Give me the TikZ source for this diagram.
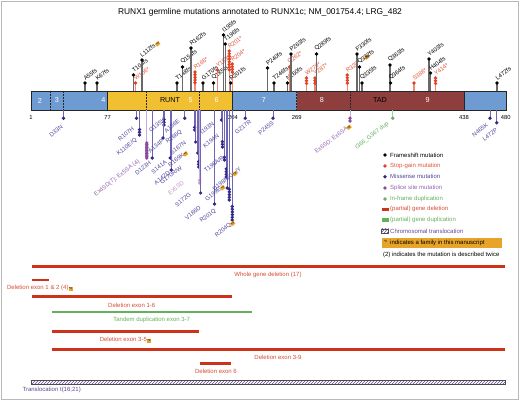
\documentclass[tikz,border=0pt]{standalone}
\usepackage{fontspec}
\setmainfont{Liberation Sans}
\usetikzlibrary{patterns}
\definecolor{exblue}{RGB}{110,156,210}
\definecolor{runty}{RGB}{240,192,50}
\definecolor{tadred}{RGB}{142,62,60}
\definecolor{sgred}{RGB}{226,66,36}
\definecolor{sglab}{RGB}{228,84,56}
\definecolor{msblue}{RGB}{50,40,135}
\definecolor{mslab}{RGB}{80,68,160}
\definecolor{msstem}{RGB}{112,102,182}
\definecolor{sppur}{RGB}{140,76,158}
\definecolor{splab}{RGB}{150,100,175}
\definecolor{splight}{RGB}{196,150,205}
\definecolor{spstem}{RGB}{200,172,218}
\definecolor{dupgreen}{RGB}{100,176,92}
\definecolor{delred}{RGB}{206,50,24}
\definecolor{dellab}{RGB}{214,78,52}
\definecolor{badgeor}{RGB}{232,164,40}
\definecolor{fsstem}{RGB}{105,105,105}
\definecolor{sgstem}{RGB}{240,138,115}
\definecolor{trpur}{RGB}{100,72,140}
\newcounter{mc}
\newcounter{lc}
\newcommand{\badge}{{\setlength{\fboxsep}{0.7pt}\colorbox{badgeor}{\fontsize{3.1}{3.1}\selectfont\color{black}*\#}}}
\tikzset{
  toplab/.style={font=\fontsize{5.9}{6.5}\selectfont, inner sep=0.2pt, anchor=south west, rotate=38},
  botlab/.style={font=\fontsize{5.9}{6.5}\selectfont, inner sep=0.2pt, anchor=center, rotate=38},
  barlab/.style={font=\fontsize{7.2}{8}\selectfont, inner sep=0},
  ticklab/.style={font=\fontsize{5.8}{6}\selectfont, inner sep=0},
  legtext/.style={font=\fontsize{6}{7}\selectfont, anchor=west, inner sep=0},
  dellabel/.style={font=\fontsize{6}{7}\selectfont, text=dellab, inner sep=0},
  delbar/.style={draw=delred, line width=2.9pt},
  dupbar/.style={draw=dupgreen, line width=2.9pt},
  domline/.style={draw=black!85, line width=0.6pt},
  domdash/.style={draw=black!85, line width=0.6pt, dash pattern=on 1.8pt off 1.2pt},
}
\newcommand{\topmut}[7]{%
  \stepcounter{mc}%
  \coordinate (tb\themc) at (#1,91);
  \coordinate (td\themc) at (#1,#2);
  \draw[#5, line width=1.2pt] (tb\themc) -- (td\themc);
  \foreach \i in {1,...,#3} {\fill[#4] (#1,{#2+(\i-1)*2.7}) circle (1.85);}
  \node[toplab, text=#6] (tl\themc) at ({#1+0.6},{#2-1.6}) {#7};
}
\newcommand{\mutfs}[4]{\topmut{#1}{#2}{#3}{black}{fsstem}{black}{#4}}
\newcommand{\mutsg}[4]{\topmut{#1}{#2}{#3}{sgred}{sgstem}{sglab}{#4}}
\newcommand{\botmut}[6]{%
  \stepcounter{mc}%
  \coordinate (bb\themc) at (#1,110);
  \coordinate (bd\themc) at (#1,#2);
  \draw[#5, line width=1pt] (bb\themc) -- (bd\themc);
  \foreach \i in {1,...,#3} {\fill[#4] (#1,{#2-(\i-1)*#6}) circle (1.85);}
}
\newcommand{\mutms}[3]{\botmut{#1}{#2}{#3}{msblue}{msstem}{2.7}}
\newcommand{\blab}[4]{\stepcounter{lc}\node[botlab,text=#3] (bl\thelc) at (#1,#2) {#4};}
\begin{document}
\begin{tikzpicture}[x=1pt,y=-1pt]
\useasboundingbox (0,0) rectangle (520,401);
\fill[white] (0,0) rectangle (520,401);
\draw[gray!55, line width=0.8pt] (1,1) rectangle (518.6,399.2);
% title
\node[font=\fontsize{8.4}{9}\selectfont, inner sep=0] (title) at (260,12) {RUNX1 germline mutations annotated to RUNX1c; NM\_001754.4; LRG\_482};
% protein bar
\fill[exblue] (31,91) rectangle (107.6,110);
\fill[runty] (107.6,91) rectangle (232.3,110);
\fill[exblue] (232.3,91) rectangle (296.5,110);
\fill[tadred] (296.5,91) rectangle (464,110);
\fill[exblue] (464,91) rectangle (506,110);
\draw[domline] (31,91) rectangle (506,110);
\draw[domline] (107.6,91) -- (107.6,110);
\draw[domline] (232.3,91) -- (232.3,110);
\draw[domline] (464,91) -- (464,110);
\foreach \xx in {50.7,63.3,146.7,199,296.5,350} {\draw[domdash] (\xx,91) -- (\xx,110);}
\node[barlab, text=white] (e2) at (40,100.5) {2};
\node[barlab, text=white] (e3) at (57,100.5) {3};
\node[barlab, text=white] (e4) at (103.5,100.5) {4};
\node[barlab, text=black] (runt) at (170,100.5) {RUNT};
\node[barlab, text=white] (e5) at (190.7,100.5) {5};
\node[barlab, text=white] (e6) at (216.7,100.5) {6};
\node[barlab, text=white] (e7) at (264,100.5) {7};
\node[barlab, text=white] (e8) at (322,100.5) {8};
\node[barlab, text=black] (tad) at (380,100.5) {TAD};
\node[barlab, text=white] (e9) at (427.7,100.5) {9};
% ticks
\node[ticklab] (k1) at (31,117.5) {1};
\node[ticklab] (k77) at (107.6,117.5) {77};
\node[ticklab] (k204) at (233,117.5) {204};
\node[ticklab] (k269) at (296.7,117.5) {269};
\node[ticklab] (k438) at (464,117.5) {438};
\node[ticklab] (k480) at (505.7,117.5) {480};
% top mutations
\mutfs{85}{83}{1}{A55fs}
\mutfs{97}{83}{1}{K67fs}
\mutfs{133.5}{75}{1}{T104fs}
\mutsg{135.5}{83}{1}{W106*}
\mutfs{142}{60}{1}{L112fs\,\badge}
\mutfs{177}{83}{1}{T148fs}
\mutfs{182.5}{67}{1}{Q154fs}
\mutfs{191}{48}{1}{R162fs}
\mutsg{195}{72}{5}{R166*}
\mutfs{203}{83}{1}{G170fs}
\mutfs{213.5}{83}{1}{Q185fs}
\mutsg{217.4}{70}{1}{Y189*}
\mutfs{223.5}{35}{1}{I195fs}
\mutfs{225.2}{44}{1}{T196fs}
\mutsg{229.3}{51}{8}{R201*}
\mutsg{232.3}{64}{4}{R204*}
\mutfs{230.8}{83}{1}{R201fs}
\mutfs{267.5}{68}{1}{P240fs}
\mutfs{274}{83}{1}{T246fs}
\mutfs{287.5}{83}{1}{N260fs}
\mutsg{289.5}{67}{1}{Q262*}
\mutfs{291}{54}{1}{P263fs}
\mutsg{306.5}{78}{3}{W279*}
\mutsg{315}{78}{3}{Y287*}
\mutfs{316.5}{54}{1}{Q289fs}
\mutsg{347.3}{75}{4}{R320*}
\mutfs{357}{54}{1}{F330fs}
\node[rotate=38, inner sep=0] (bF330) at (367,57) {\badge};
\mutfs{359.5}{67}{1}{Q332fs}
\mutfs{362}{83}{1}{Q335fs}
\mutfs{390}{65}{1}{Q363fs}
\mutfs{390.6}{83}{1}{Q364fs}
\mutsg{414}{83}{1}{S388*}
\mutfs{429}{59}{1}{Y403fs}
\mutfs{430.6}{73}{1}{H404fs}
\mutsg{435.5}{78}{3}{Y414*}
\mutfs{497}{83}{1}{L472fs}
% bottom mutations
\mutms{63.5}{118.3}{1}
\mutms{136.5}{118.3}{1}
\mutms{139.5}{135}{3}
\botmut{146.7}{158}{11}{sppur}{spstem}{1.5}
\mutms{152.3}{158}{1}
\mutms{164}{125}{3}
\mutms{163}{138}{1}
\mutms{170.3}{158}{1}
\mutms{171.3}{170}{1}
\mutms{184.7}{118.3}{1}
\mutms{194.6}{130}{2}
\mutms{195.6}{142}{1}
\mutms{197.6}{153}{1}
\mutms{198.6}{167}{3}
\botmut{199.6}{183}{2}{splight}{spstem}{2.7}
\mutms{200.6}{193}{1}
\mutms{214.5}{204}{1}
\mutms{221.4}{120}{1}
\mutms{222.4}{147}{3}
\mutms{224.4}{160}{2}
\mutms{226.3}{177}{4}
\mutms{227.3}{188}{1}
\mutms{229.3}{200}{5}
\mutms{232.3}{220}{6}
\mutms{245.2}{118.3}{1}
\mutms{273}{118.3}{1}
\botmut{350}{121}{2}{sppur}{spstem}{2.7}
\botmut{392.7}{118.3}{1}{dupgreen}{dupgreen!60}{2.7}
\mutms{490}{118.3}{1}
\mutms{496.7}{122.7}{1}
% bottom labels
\blab{56}{131}{mslab}{D33N}
\blab{126}{134}{mslab}{R107H}
\blab{127}{147}{mslab}{K110E/Q}
\blab{117}{178}{splab}{Ex4SD(7); Ex5SA (4)}
\blab{143}{168}{mslab}{D123H}
\blab{157}{125}{mslab}{G135V}
\blab{156}{146}{mslab}{A134P}
\blab{159}{167}{mslab}{S141A}
\blab{162}{178}{mslab}{A142D}
\blab{172}{126}{mslab}{A156E}
\blab{174}{137}{mslab}{R166Q}
\blab{178}{148}{mslab}{S167N}
\blab{178}{159}{mslab}{R169K\badge}
\blab{171}{175}{mslab}{G170R/W}
\blab{176}{188}{splight}{Ex5SD}
\blab{183}{200}{mslab}{S172G}
\blab{193}{213}{mslab}{V186D}
\blab{207}{128}{mslab}{I193N}
\blab{211}{141}{mslab}{K194N}
\blab{214}{164}{mslab}{T196A/R}
\blab{227}{179}{mslab}{D198N/G\badge/Y}
\blab{215}{193}{mslab}{G199E\badge}
\blab{208}{216}{mslab}{R201Q}
\blab{225}{229}{mslab}{R204Q\badge}
\blab{243}{127}{mslab}{G217R}
\blab{266}{128}{mslab}{P245S}
\blab{333}{139}{splab}{Ex6SD; Ex6SA\badge}
\blab{372}{136}{dupgreen}{I366\_G367 dup}
\blab{480}{130}{mslab}{N465K}
\blab{490}{135}{mslab}{L472P}
% legend
\fill[black] (385,155) circle (1.9);
\node[legtext] (lg1) at (390,155) {Frameshift mutation};
\fill[sgred] (385,166) circle (1.9);
\node[legtext, text=sglab] (lg2) at (390,166) {Stop-gain mutation};
\fill[msblue] (385,176.7) circle (1.9);
\node[legtext, text=mslab] (lg3) at (390,176.7) {Missense mutation};
\fill[sppur] (385,188) circle (1.9);
\node[legtext, text=splab] (lg4) at (390,188) {Splice site mutation};
\fill[dupgreen] (385,199) circle (1.9);
\node[legtext, text=dupgreen] (lg5) at (390,199) {In-frame duplication};
\fill[delred] (381.5,207.8) rectangle (388.5,210.9);
\node[legtext, text=dellab] (lg6) at (390,209.3) {(partial) gene deletion};
\fill[dupgreen] (381.5,218.5) rectangle (388.5,221.6);
\node[legtext, text=dupgreen] (lg7) at (390,220) {(partial) gene duplication};
\fill[white] (381.5,229) rectangle (388.5,233);
\fill[pattern=north east lines, pattern color=trpur] (381.5,229) rectangle (388.5,233);
\draw[black!70, line width=0.5pt] (381.5,229) rectangle (388.5,233);
\node[legtext, text=trpur] (lg8) at (390,231) {Chromosomal translocation};
\fill[badgeor] (381.7,238) rectangle (501.7,248);
\node[font=\fontsize{3.4}{3.4}\selectfont, inner sep=0] (lgb) at (385.5,241.2) {*\#};
\node[legtext] (lg9) at (390,243) {indicates a family in this manuscript};
\node[legtext] (lg10) at (382.8,255) {(2) indicates the mutation is described twice};
% deletions
\draw[delbar] (32,266.7) coordinate (w1) -- (505,266.7) coordinate (w2);
\node[dellabel] (lw) at (268,275.2) {Whole gene deletion (17)};
\draw[delbar] (32,280) coordinate (a1) -- (49.3,280) coordinate (a2);
\node[dellabel] (la) at (40,288.3) {Deletion exon 1 \& 2 (4)\badge};
\draw[delbar] (32,296.7) coordinate (c1) -- (232.3,296.7) coordinate (c2);
\node[dellabel] (lc) at (131.7,305) {Deletion exon 1-6};
\draw[dupbar] (51.7,312) coordinate (d1) -- (251.7,312) coordinate (d2);
\node[dellabel, text=dupgreen] (ld) at (151.7,320.3) {Tandem duplication exon 3-7};
\draw[delbar] (51.7,331.7) coordinate (f1) -- (199.3,331.7) coordinate (f2);
\node[dellabel] (lf) at (125.5,340) {Deletion exon 3-5\badge};
\draw[delbar] (51.7,349.7) coordinate (g1) -- (505,349.7) coordinate (g2);
\node[dellabel] (lg) at (278,357.7) {Deletion exon 3-9};
\draw[delbar] (200.3,363.3) coordinate (h1) -- (231.3,363.3) coordinate (h2);
\node[dellabel] (lh) at (216,371.3) {Deletion exon 6};
\fill[white] (31.7,380.6) rectangle (505.7,384.4);
\fill[pattern=north east lines, pattern color=trpur] (31.7,380.6) rectangle (505.7,384.4);
\draw[black!70, line width=0.5pt] (31.7,380.6) rectangle (505.7,384.4);
\node[dellabel, text=trpur] (lt) at (51.7,390) {Translocation t(16;21)};
\end{tikzpicture}
\end{document}
